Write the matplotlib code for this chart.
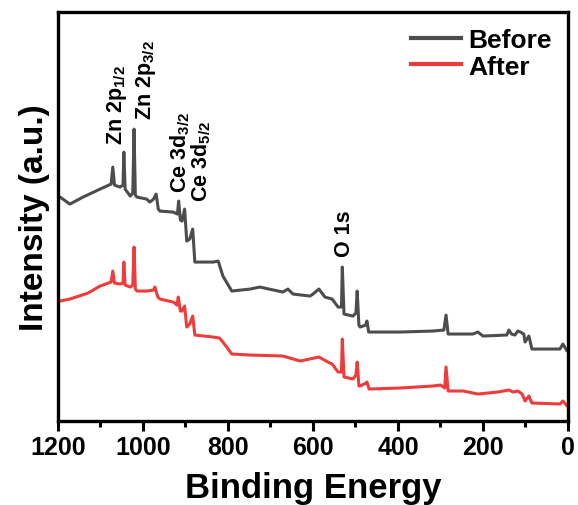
import matplotlib
matplotlib.use("Agg")
import matplotlib.pyplot as plt
from matplotlib.ticker import MultipleLocator

plt.rcParams['font.family'] = ['Liberation Sans', 'DejaVu Sans']
plt.rcParams['font.weight'] = 'bold'
plt.rcParams['mathtext.fontset'] = 'custom'
plt.rcParams['mathtext.rm'] = 'Liberation Sans:bold'
plt.rcParams['mathtext.it'] = 'Liberation Sans:bold'
plt.rcParams['mathtext.bf'] = 'Liberation Sans:bold'
plt.rcParams['mathtext.default'] = 'rm'

# Binding energy (eV) and intensity (a.u.) for the "Before" spectrum
before_eV = [1200, 1195, 1172, 1141, 1101, 1075, 1071, 1067, 1054, 1047, 1045, 1042,
             1030, 1024, 1021, 1018, 1014, 991, 984, 975, 969, 964, 960, 929, 919,
             916, 912, 908, 902, 897, 890, 883, 878, 835, 823, 812, 791, 748, 725,
             671, 659, 647, 607, 600, 586, 572, 555, 541, 533, 531, 527, 506, 499,
             496, 492, 489, 476, 473, 469, 466, 395, 318, 292, 287, 282, 224, 212,
             200, 144, 139, 133, 125, 118, 112, 104, 101, 92, 87, 85, 19, 12, 2, 0]
before_I = [222, 224, 217, 224, 232, 237, 254, 236, 234, 236, 269, 232,
            225, 228, 292, 226, 224, 222, 219, 222, 227, 212, 210, 209, 207,
            220, 201, 200, 212, 180, 182, 192, 159, 159, 160, 145, 130, 132, 134,
            129, 132, 127, 125, 127, 132, 124, 122, 114, 114, 154, 107, 105, 108,
            130, 96, 94, 96, 100, 89, 89, 89, 90, 91, 106, 87, 87, 89,
            85, 86, 91, 87, 86, 90, 89, 87, 79, 85, 76, 72, 72, 77, 70, 70]

# Binding energy (eV) and intensity (a.u.) for the "After" spectrum
after_eV = [1200, 1195, 1172, 1129, 1101, 1075, 1071, 1067, 1054, 1047, 1045, 1042,
            1030, 1024, 1021, 1018, 1014, 991, 975, 972, 965, 960, 929, 920, 917,
            912, 908, 902, 897, 890, 883, 878, 835, 820, 812, 791, 748, 671, 630,
            586, 565, 555, 541, 533, 531, 527, 506, 499, 496, 492, 489, 475, 473,
            468, 395, 318, 300, 290, 287, 282, 247, 212, 165, 139, 129, 118, 108,
            101, 92, 85, 19, 12, 2, 0]
after_I = [119, 120, 122, 128, 135, 139, 150, 138, 137, 138, 159, 136,
           134, 136, 174, 132, 130, 130, 131, 134, 124, 122, 119, 116, 124,
           110, 110, 115, 94, 97, 105, 86, 84, 83, 79, 67, 66, 65, 60,
           64, 59, 57, 49, 49, 82, 44, 42, 46, 59, 35, 35, 38, 39,
           32, 33, 35, 36, 33, 54, 30, 30, 27, 29, 31, 29, 30, 27,
           20, 25, 18, 17, 20, 15, 15]

series_labels = ["Before", "After"]

# Peak annotations: label, energy, intensity of label bottom
peak_labels = ["Zn 2p$_{1/2}$", "Zn 2p$_{3/2}$", "Ce 3d$_{3/2}$", "Ce 3d$_{5/2}$", "O 1s"]
peak_eV = [1062, 992, 913, 862, 527]
peak_I = [277, 302, 229, 220, 165]

fig = plt.figure(figsize=(5.78, 5.06), dpi=100)
ax = fig.add_axes([0.1003, 0.166, 0.8824, 0.808])

ax.plot(before_eV, before_I, color='#4d4d4d', lw=2.2, label=series_labels[0])
ax.plot(after_eV, after_I, color='#ef3b3b', lw=2.2, label=series_labels[1])

for lab, xe, yi in zip(peak_labels, peak_eV, peak_I):
    ax.text(xe, yi, lab, rotation=90, ha='center', va='bottom', fontsize=15.5,
            fontweight='bold')

ax.set_xlim(1200, 0)
ax.set_ylim(0, 409)
ax.xaxis.set_major_locator(MultipleLocator(200))
ax.xaxis.set_minor_locator(MultipleLocator(100))
ax.set_yticks([])
ax.tick_params(axis='x', which='major', direction='out', length=7, width=2.2,
               labelsize=18, pad=3)
ax.tick_params(axis='x', which='minor', direction='out', length=4, width=2.2)
for lbl in ax.get_xticklabels():
    lbl.set_fontweight('bold')
for s in ax.spines.values():
    s.set_linewidth(2.4)

ax.set_xlabel("Binding Energy", fontsize=25, fontweight='bold', labelpad=9)
ax.set_ylabel("Intensity (a.u.)", fontsize=24, fontweight='bold', labelpad=6)

leg = ax.legend(loc='upper right', frameon=False, handlelength=1.9,
                handletextpad=0.3, labelspacing=0.1, borderaxespad=0.2,
                prop={'weight': 'bold', 'size': 19})
for line in leg.get_lines():
    line.set_linewidth(3)

fig.savefig("out.png", dpi=100)
